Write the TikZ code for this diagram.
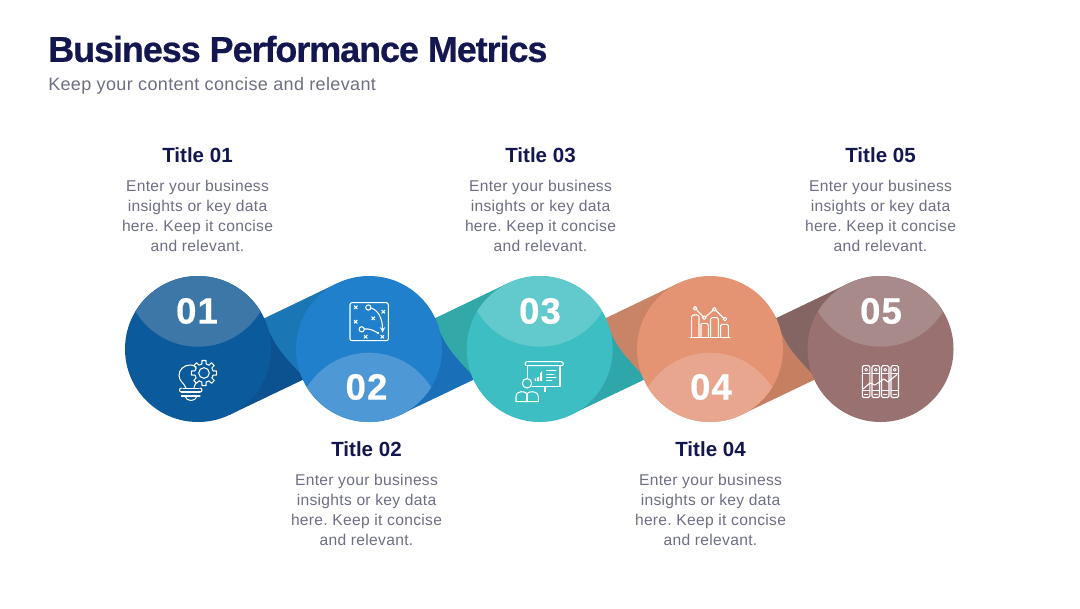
\documentclass[tikz,border=0pt]{standalone}
\usepackage{fontspec}
\setmainfont{Liberation Sans}
\newfontfamily\headfont[LetterSpace=-3,FakeBold=0.5]{Liberation Sans Bold}
\newfontfamily\numfont[LetterSpace=3,FakeBold=0.5]{Liberation Sans Bold}
\newfontfamily\bodyfont[LetterSpace=2]{Liberation Sans}
\definecolor{navy}{HTML}{14164F}
\definecolor{greytext}{HTML}{6D6E84}
\definecolor{lowA}{HTML}{0C5290}
\definecolor{upA}{HTML}{1B76B6}
\definecolor{lowB}{HTML}{1A70B8}
\definecolor{upB}{HTML}{33A8A8}
\definecolor{lowC}{HTML}{2FA6AA}
\definecolor{upC}{HTML}{C98468}
\definecolor{lowD}{HTML}{C67F60}
\definecolor{upD}{HTML}{846564}
\definecolor{discA}{HTML}{0A5A9C}
\definecolor{capA}{HTML}{3C77A8}
\definecolor{discB}{HTML}{2080CC}
\definecolor{capB}{HTML}{4F98D6}
\definecolor{discC}{HTML}{3CBEC2}
\definecolor{capC}{HTML}{62C9CC}
\definecolor{discD}{HTML}{E49373}
\definecolor{capD}{HTML}{E9A68E}
\definecolor{discE}{HTML}{997170}
\definecolor{capE}{HTML}{A88A8A}
\tikzset{
  heading/.style={font=\fontsize{15.4}{18}\selectfont\bfseries,text=navy,inner sep=0pt},
  blurb/.style={font=\fontsize{11.7}{15.2}\selectfont\bodyfont\frenchspacing,text=greytext,align=center,inner sep=0pt},
  numeral/.style={font=\fontsize{27.5}{30}\selectfont\numfont,text=white,inner sep=0pt},
  icon/.style={draw=white,line width=0.8pt,line join=round,line cap=round},
}
\begin{document}
\begin{tikzpicture}[x=0.75pt,y=-0.75pt,>=stealth]
  \useasboundingbox (0,0) rectangle (1080,608);
  % ribbons first, each one slides 170.5 to the right
  \foreach \X/\low/\up in {0/lowA/upA,170.5/lowB/upB,341/lowC/upC,511.5/lowD/upD}{
    \fill[\low] ({\X+198},349)--({\X+229.6},414.8)--({\X+330},366.8)--({\X+300},340)--({\X+265},325)--cycle;
    \fill[\up] ({\X+262},319.4)--({\X+337.4},283.2)--({\X+369},349)--({\X+305},378.6)
      .. controls ({\X+292},364) and ({\X+279},352) .. ({\X+272},337)--cycle;
  }
  % discs with their lighter lens
  \foreach \X/\Yc/\disc/\lens in {198/273.7/discA/capA,369/425.7/discB/capB,539.7/273.7/discC/capC,710/425.7/discD/capD,880.5/273.7/discE/capE}{
    \fill[\disc] (\X,349) circle (73);
    \begin{scope}
      \clip (\X,349) circle (73);
      \fill[\lens] (\X,\Yc) circle (73);
    \end{scope}
  }
  % numbers
  \node[numeral] (num01) at (197,311) {01};
  \node[numeral] (num02) at (366.5,387) {02};
  \node[numeral] (num03) at (540,311) {03};
  \node[numeral] (num04) at (711,387) {04};
  \node[numeral] (num05) at (881,311) {05};
  % heading
  \node[anchor=west,inner sep=0pt,text=navy,font=\fontsize{27}{30}\selectfont\headfont] (maintitle) at (48,49) {Business Performance Metrics};
  \node[anchor=west,inner sep=0pt,text=greytext,font=\fontsize{13.5}{16}\selectfont\bodyfont] (subtitle) at (48,85.5) {Keep your content concise and relevant};
  % text blocks
  \foreach \nm/\X/\Yt/\Yb in {01/197.5/155/216,02/366.5/449/510,03/540.5/155/216,04/710.5/449/510,05/880.5/155/216}{
    \node[heading] (title\nm) at (\X,\Yt) {Title \nm};
    \node[blurb] (text\nm) at (\X,\Yb) {Enter your business\\insights or key data\\here. Keep it concise\\and relevant.};
  }
  % icon 01: bulb and gear
  \draw[icon] (186,388) .. controls (184,383) and (179,381) .. (179,375.5)
    .. controls (179,369.5) and (184,365) .. (190,365) .. controls (192,365) and (194,365.5) .. (196,366.5);
  \draw[icon] (196,383) .. controls (195,385) and (194,386) .. (194,388);
  \draw[icon] (183,388.3)--(199,388.3) (181.5,392)--(200,392) (181.5,396)--(200,396);
  \draw[icon] (181.5,392) arc[start angle=90,end angle=270,radius=2] (200,392) arc[start angle=90,end angle=-90,radius=2];
  \draw[icon] (185,396) .. controls (186,402) and (196,402) .. (197,396);
  \foreach \a in {0,45,...,315}{
    \draw[icon,shift={(204,373)}] (\a-13:9.3) -- (\a-9:12.7) -- (\a+9:12.7) -- (\a+13:9.3) arc[start angle=\a+13,end angle=\a+32,radius=9.3];
  }
  \draw[icon] (204,373) circle (5.3);
  % icon 02: play board
  \draw[icon,rounded corners=1.5pt] (350,302.7) rectangle (388.3,340.7);
  \foreach \mx/\my in {355.7/307.3,383.3/311.7,373.3/318.3,355.7/321.7,365.7/336.7,382.3/336.7}{
    \draw[icon] (\mx-1.5,\my-1.5)--(\mx+1.5,\my+1.5) (\mx-1.5,\my+1.5)--(\mx+1.5,\my-1.5);
  }
  \draw[icon] (368.3,307.5) circle (2.6);
  \draw[icon] (361.7,329.3) circle (2.6);
  \draw[icon,->] (371,308) .. controls (378,310) and (382.5,318) .. (382.5,332.5);
  \draw[icon] (364.5,329) .. controls (369,328.5) and (373,330) .. (377,332.5);
  \fill[white] (378,333) circle (1.4);
  % icon 03: presenter
  \draw[icon,rounded corners=1.5pt] (525,361.7) rectangle (563.3,365.7);
  \draw[icon] (527.3,365.7)--(527.3,378.5) (560,365.7)--(560,386.7)--(532,386.7) (545,386.7)--(545,391.5);
  \draw[icon] (527,383.3) circle (4.7);
  \draw[icon] (516,401.7)--(516,397) .. controls (516,393.5) and (518.5,391.7) .. (521,391.7)
    .. controls (523.5,391.7) and (525.5,392) .. (527,393.5) .. controls (528.5,392) and (530.5,391.7) .. (533,391.7)
    .. controls (535.5,391.7) and (538.3,393.5) .. (538.3,397)--(538.3,401.7)--cycle;
  \draw[icon] (527,393.5)--(527,401.7);
  \fill[white] (534.5,381)--(536,381)--(536,378)--(534.5,379)--cycle (537,381)--(539,381)--(539,376.5)--(537,377.5)--cycle (540,381)--(542,381)--(542,371)--(540,373.5)--cycle;
  \foreach \Y/\xe in {370.7/556,374/554,377.3/556,380.5/552}{
    \draw[icon,line width=0.6pt] (546.5,\Y)--(\xe,\Y);
  }
  % icon 04: bars with trend
  \draw[icon] (690,337.3)--(730,337.3);
  \foreach \xl/\xr/\Ytop in {691.7/699/315,701/708.3/323.3,710.7/718.3/317.7,720.7/728.3/324.3}{
    \draw[icon,rounded corners=1pt] (\xl,337.3)--(\xl,\Ytop)--(\xr,\Ytop)--(\xr,337.3);
  }
  \draw[icon] (696.3,309.5)--(703,316.5) (706,316.5)--(712.8,310.5) (716,310.5)--(723.5,318);
  \foreach \mx/\my in {695/308.3,704.3/317.7,714.3/309.3,725/319}{
    \draw[icon] (\mx,\my) circle (1.8);
  }
  % icon 05: binders
  \foreach \xl in {862.3,872,881.5,891}{
    \draw[icon,rounded corners=1pt] (\xl,365.7) rectangle (\xl+7.5,397.5);
    \draw[icon,line width=0.6pt] (\xl,373.5)--(\xl+7.5,373.5) (\xl,390.5)--(\xl+7.5,390.5) (\xl+2,394)--(\xl+5.5,394);
    \draw[icon,line width=0.6pt] (\xl+3.75,369.7) circle (1.5);
  }
  \draw[icon] (863,389)--(870,383)--(875,385)--(884,379)--(888,382)--(897,374.5);
\end{tikzpicture}
\end{document}
